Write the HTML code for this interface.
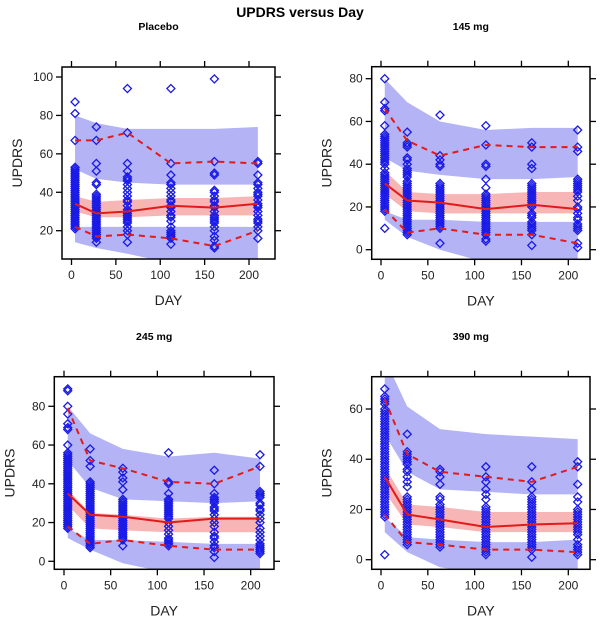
<!DOCTYPE html>
<html><head><meta charset="utf-8">
<style>
html,body{margin:0;padding:0;background:#fff;}
svg text{font-family:"Liberation Sans",Arial,sans-serif;}
</style></head>
<body>
<svg id="chart" width="600" height="620" viewBox="0 0 600 620" xmlns="http://www.w3.org/2000/svg">
<text x="300" y="17" text-anchor="middle" font-size="14" font-weight="bold">UPDRS versus Day</text>
</svg>
<script>
// ---- data ----
const times = [4, 28, 63, 112, 161, 210];
const panelTitles = ["Placebo", "145 mg", "245 mg", "390 mg"];
const yTicks = [[20,40,60,80,100],[0,20,40,60,80],[0,20,40,60,80],[0,20,40,60]];
const xTicks = [0,50,100,150,200];
const medianObs = [[34,29,30,33,32,34],[31,23,22,19,21,19],[35,24,23,20,22,22],[33,18,16,13,14,14.5]];
const upperObs = [[67,67,71,55,56,55],[66,51,44,49,48,48],[79,52,48,41,40,49],[64,42,35,33,31,37]];
const lowerObs = [[22,17,18,16,12,20],[19,8,10,7,7,3],[18,9,11,8,6,6],[18,7,6,4,4,3]];
const upperBandHi = [[80,76,73,73,73,74],[80,69,60,56,57,57],[80,66,58,54,56,53],[80,61,52,50,49,48]];
const upperBandLo = [[52,47,45,44,44,44],[43,37,35,33,33,34],[52,38,32,31,30,31],[50,35,28,27,26,26]];
const medBandHi = [[38,35,36,37,37,38],[37,27,26,26,27,27],[37,25,24,22,23,23],[37,22,21,19,19,19]];
const medBandLo = [[30,27,27,28,28,28],[26,18,17,17,17,17],[29,17,16,15,15,15],[27,14,13,11,11,11]];
const lowerBandHi = [[22,22,22,22,22,22],[18,14,14,13,13,13],[17,11,11,10,9,9],[17,9,8,7,7,8]];
const lowerBandLo = [[14,11,8,3,3,3],[14,6,0,-6,-6,-6],[12,6,-1,-6,-6,-6],[11,3,-3,-6,-6,-6]];
const obsPlacebo = [
 [87,81,67,53,52,51,50,49,48,47,46,45,44,43,42,41,40,39,38,37,36,35,34,33,32,31,30,29,28,27,26,25,24,23,22,21],
 [74,67,55,51,45,44,39,38,37,36,35,34,33,32,31,30,29,28,27,26,25,24,23,22,21,20,19,18,17,16,14],
 [94,71,55,51,48,47,46,44,42,40,38,36,35,33,31,30,29,28,27,26,25,24,22,20,18,14],
 [94,55,49,45,44,42,40,38,36,35,33,32,30,28,27,25,22,20,19,18,17,16,13],
 [99,56,50,49,41,40,38,36,35,33,32,30,28,27,26,25,24,22,20,17,15,12,11],
 [56,55,49,45,44,42,40,39,38,36,34,33,32,30,28,26,25,24,22,20,16]];
const obs145 = [
 [80,69,66,65,58,54,53,52,51,50,49,48,47,46,45,44,43,42,41,40,38,36,35,34,33,32,31,30,29,28,27,26,25,24,23,22,21,20,19,18,10],
 [55,50,49,48,43,42,40,38,37,36,35,34,32,31,30,29,28,27,26,25,24,23,22,21,20,19,18,17,16,15,14,13,12,11,10,9,8,7],
 [63,44,42,40,39,31,30,29,28,27,26,25,24,23,22,21,20,19,18,17,16,15,14,13,12,11,10,3],
 [58,49,40,39,33,29,26,25,24,23,22,21,20,19,18,17,16,15,14,13,12,11,10,9,8,7,5,4],
 [50,48,40,38,31,30,29,28,27,26,25,24,23,22,21,20,17,16,15,13,12,11,10,9,7,2],
 [56,48,46,33,32,31,30,29,28,27,25,23,20,19,17,15,14,12,11,10,9,3,1]];
const obs245 = [
 [89,88,80,76,71,69,68,60,56,55,54,53,52,51,50,49,48,47,46,45,44,43,42,41,40,39,38,37,36,35,34,33,32,31,30,29,28,27,26,25,24,23,22,21,20,19,18,17],
 [58,52,49,41,40,39,38,37,36,35,34,33,32,31,30,29,28,27,26,25,24,23,22,21,20,19,18,17,16,15,14,13,12,11,10,9,8,7],
 [48,46,43,41,37,32,31,30,29,28,27,26,25,24,23,22,21,20,19,18,17,16,15,14,13,12,11,8],
 [56,41,40,35,32,31,30,29,28,27,26,25,24,23,22,20,18,16,14,12,11,10,9,8],
 [47,40,35,33,32,31,30,28,27,26,24,22,20,18,15,13,12,10,8,7,5,2],
 [55,49,36,35,34,33,30,29,27,26,24,22,20,17,15,13,11,9,8,7,6,5,4]];
const obs390 = [
 [68,65,64,63,62,60,59,58,57,56,55,54,53,52,51,50,49,48,47,46,45,44,43,42,41,40,39,38,37,36,35,34,33,32,31,30,29,28,27,26,25,24,23,22,21,20,19,18,17,2],
 [50,43,42,41,40,39,38,36,35,33,31,29,25,24,23,22,21,20,19,18,17,16,15,14,13,12,11,10,9,8,7,6],
 [36,35,33,30,25,24,22,21,20,19,18,17,16,15,14,13,12,11,10,9,8,7,6,5],
 [37,33,31,28,26,24,21,20,19,18,17,16,15,14,13,12,11,10,9,8,7,6,5,4,3,2],
 [37,31,28,25,24,23,22,21,20,19,18,17,16,15,14,13,12,11,10,9,8,7,6,5,4,1],
 [39,37,30,25,23,20,19,18,17,16,15,14,13,12,11,10,8,6,5,4,3,2]];
const observed = [obsPlacebo, obs145, obs245, obs390];

// ---- layout (pixel geometry, not data) ----
const layout = [
 {L:62,T:67,R:275,B:259,x0px:71.5,x200px:249,yA:20,yApx:230.7,yB:100,yBpx:77,titleY:30},
 {L:371.7,T:66.7,R:590,B:259.3,x0px:381,x200px:568.3,yA:0,yApx:249.7,yB:80,yBpx:78.7,titleY:30},
 {L:54.3,T:376.7,R:274,B:569.3,x0px:64,x200px:250.7,yA:0,yApx:561.3,yB:80,yBpx:406.3,titleY:340},
 {L:371.7,T:376.7,R:590,B:569.3,x0px:381,x200px:568.3,yA:0,yApx:559.7,yB:60,yBpx:409,titleY:340}];

const NS="http://www.w3.org/2000/svg";
const svg=document.getElementById('chart');
function mk(tag,attrs,parent){const e=document.createElementNS(NS,tag);for(const k in attrs)e.setAttribute(k,attrs[k]);(parent||svg).appendChild(e);return e;}

layout.forEach((g,p)=>{
  const xs=d=>g.x0px+(g.x200px-g.x0px)*d/200;
  const ys=v=>g.yApx+(g.yBpx-g.yApx)*(v-g.yA)/(g.yB-g.yA);
  const grp=mk('g',{});
  
  
  const cid='clip'+p;
  const defs=mk('defs',{},grp);
  const cp=mk('clipPath',{id:cid},defs);
  mk('rect',{x:g.L,y:g.T,width:g.R-g.L,height:g.B-g.T},cp);
  const plot=mk('g',{'clip-path':'url(#'+cid+')'},grp);
  function band(hi,lo,fill,name){
    let d='M'+times.map((t,i)=>xs(t)+','+ys(hi[p][i])).join('L');
    d+='L'+times.slice().reverse().map((t,j)=>{const i=times.length-1-j;return xs(t)+','+ys(lo[p][i]);}).join('L')+'Z';
    const e=mk('path',{d:d,fill:fill,stroke:'none'},plot);
    
    
  }
  band(upperBandHi,upperBandLo,'#b3b3f6','upper-pi-band');
  band(lowerBandHi,lowerBandLo,'#b3b3f6','lower-pi-band');
  band(medBandHi,medBandLo,'#f7b5b5','median-pi-band');
  // points
  observed[p].forEach((col,i)=>{
    col.forEach(v=>{
      const cx=xs(times[i]),cy=ys(v),r=4;
      const e=mk('path',{d:`M${cx},${cy-r}L${cx+r},${cy}L${cx},${cy+r}L${cx-r},${cy}Z`,fill:'none',stroke:'#1a1ae6','stroke-width':1.3},plot);
      
      
    });
  });
  function line(arr,dash,name){
    const e=mk('polyline',{points:times.map((t,i)=>xs(t)+','+ys(arr[p][i])).join(' '),fill:'none',stroke:'#e31a1a','stroke-width':2,'stroke-dasharray':dash},plot);
    
    
  }
  line(medianObs,'none','observed-median-line');
  line(upperObs,'6,5','observed-95th-line');
  line(lowerObs,'6,5','observed-5th-line');
  // box
  const box=mk('rect',{x:g.L,y:g.T,width:g.R-g.L,height:g.B-g.T,fill:'none',stroke:'#000','stroke-width':1.5},grp);
  
  
  xTicks.forEach(t=>{
    const x=xs(t);
    mk('line',{x1:x,y1:g.B,x2:x,y2:g.B+6,stroke:'#000','stroke-width':1.3},grp);
    mk('line',{x1:x,y1:g.T,x2:x,y2:g.T-6,stroke:'#000','stroke-width':1.3},grp);
    const tx=mk('text',{x:x,y:g.B+20,'text-anchor':'middle','font-size':12,fill:'#222'},grp);
    
    
    tx.textContent=t;
  });
  yTicks[p].forEach(t=>{
    const y=ys(t);
    mk('line',{x1:g.L,y1:y,x2:g.L-6,y2:y,stroke:'#000','stroke-width':1.3},grp);
    mk('line',{x1:g.R,y1:y,x2:g.R+6,y2:y,stroke:'#000','stroke-width':1.3},grp);
    const ty=mk('text',{x:g.L-9,y:y+4,'text-anchor':'end','font-size':12,fill:'#222'},grp);
    
    
    ty.textContent=t;
  });
  const pt=mk('text',{x:(g.L+g.R)/2-10,y:g.titleY,'text-anchor':'middle','font-size':10.5,'font-weight':'bold'},grp);
  
  
  pt.textContent=panelTitles[p];
  const xl=mk('text',{x:(g.L+g.R)/2,y:g.B+46,'text-anchor':'middle','font-size':14,fill:'#222'},grp);
  
  
  xl.textContent='DAY';
  const lx=g.L-40, ly=(g.T+g.B)/2;
  const yl=mk('text',{x:lx,y:ly,'text-anchor':'middle','font-size':14,fill:'#222',transform:`rotate(-90 ${lx} ${ly})`},grp);
  
  
  yl.textContent='UPDRS';
});
</script>
</body></html>
